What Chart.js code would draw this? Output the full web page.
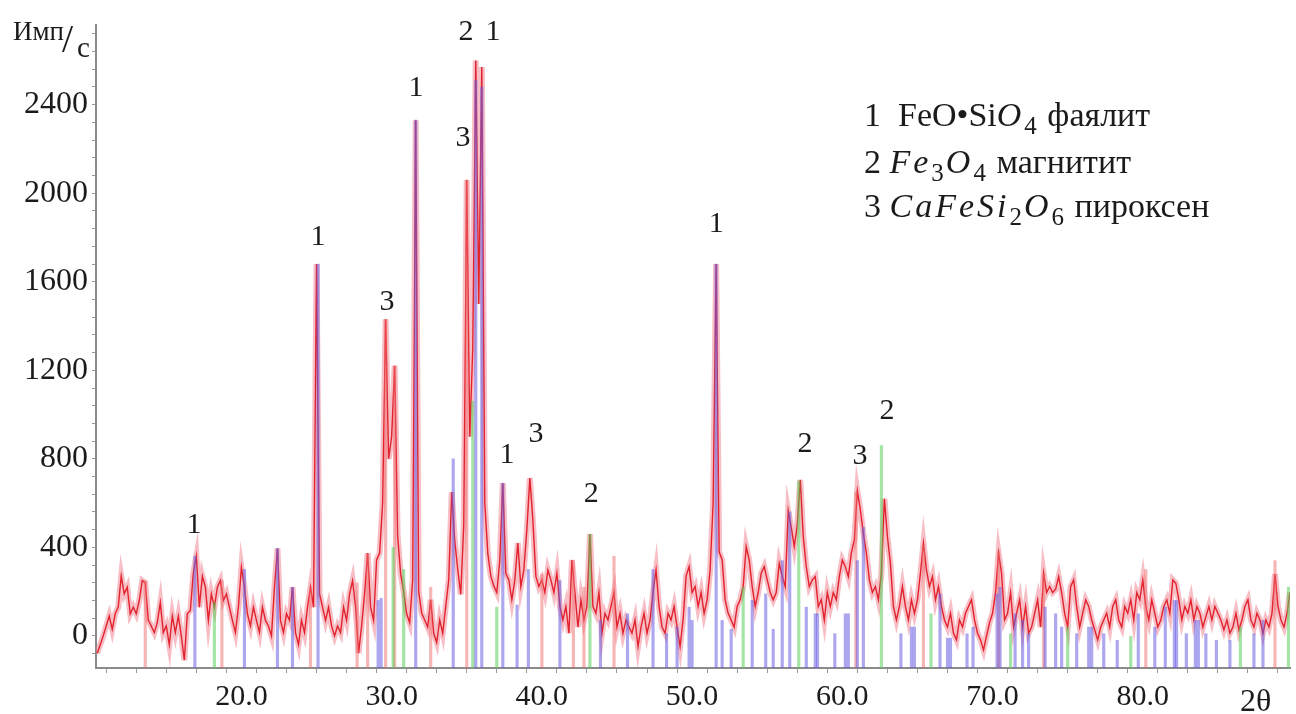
<!DOCTYPE html>
<html>
<head>
<meta charset="utf-8">
<script src="https://cdn.jsdelivr.net/npm/chart.js@4.4.1/dist/chart.umd.min.js"></script>
<style>
  html, body { margin: 0; padding: 0; background: #fff; }
  canvas { display: block; }
</style>
</head>
<body>
<canvas id="xrd" width="1296" height="714"></canvas>
<script>
// measured pattern, 2θ from 10.4 with a 0.2° step
const thetaStart = 10.4;
const thetaStep = 0.2;
const counts = [
  -78, -40, 0, 45, 90, 30, 100, 130, 270, 190,
  220, 100, 130, 100, 160, 250, 240, 70, 45, 15,
  60, 150, 15, 45, -40, 90, 15, 90, 0, -110,
  100, 115, 285, 360, 130, 270, 220, 70, 190, 130,
  220, 250, 160, 190, 130, 70, 15, 130, 310, 220,
  100, 45, 130, 70, 15, 130, 70, 45, 0, 220,
  395, 70, 15, 100, 70, 220, 15, -40, 70, 15,
  130, 220, 130, 1680, 190, 130, 70, 130, 45, 0,
  45, 15, 130, 70, 190, 250, 130, -78, 45, 190,
  374, 130, 70, 343, 374, 600, 1430, 800, 900, 1220,
  450, 280, 200, 100, 60, 250, 2330, 200, 102, 72,
  40, 163, 12, -30, 72, 12, 133, 253, 650, 430,
  300, 188, 500, 2060, 900, 1300, 2600, 1500, 2570, 600,
  374, 270, 226, 196, 343, 690, 283, 253, 163, 253,
  420, 223, 298, 480, 713, 524, 270, 223, 253, 196,
  298, 253, 196, 283, 133, 72, 133, 12, 343, 196,
  40, 163, 72, 133, 460, 133, 102, 196, 12, 102,
  72, 133, 196, 40, 102, 12, 72, 40, 12, 72,
  -48, 40, 102, 12, 72, 196, 298, 133, 40, 12,
  102, 72, 133, 40, -48, 72, 270, 313, 196, 223,
  133, 196, 102, 163, 298, 600, 1680, 380, 343, 163,
  102, 72, 40, 133, 163, 223, 404, 343, 223, 133,
  196, 283, 313, 253, 196, 163, 196, 328, 268, 223,
  565, 490, 404, 500, 705, 449, 313, 223, 253, 268,
  133, 163, 72, 196, 133, 196, 163, 268, 343, 313,
  268, 374, 434, 655, 570, 464, 374, 253, 196, 223,
  163, 283, 620, 449, 328, 133, 72, 133, 223, 133,
  72, 163, 102, 163, 283, 419, 298, 223, 268, 163,
  223, 133, 72, 40, 102, 12, -18, 72, 40, 102,
  133, 163, 72, 12, -18, -63, 0, 60, 102, 196,
  374, 283, 72, 102, 196, 40, 102, 163, 40, 133,
  12, 40, 102, 163, 40, 283, 196, 223, 196, 211,
  268, 196, 102, 40, 223, 253, 133, 40, 102, 163,
  133, 72, 27, -18, 40, 72, 102, 40, 133, 163,
  72, 40, 133, 102, 163, 72, 196, 163, 253, 133,
  72, 163, 102, 40, 72, 133, 163, 102, 253, 238,
  163, 72, 133, 102, 163, 72, 133, 102, 40, 87,
  133, 72, 133, 102, 72, 27, 72, 12, 40, 102,
  27, 72, 133, 163, 72, 40, 102, 72, 12, 72,
  40, 102, 280, 133, 72, 40, 102, 196
];

// reference sticks
const fayaliteTheta = [16.9, 20.2, 22.4, 23.4, 25.1, 29.1, 29.3, 31.6, 34.1, 35.6, 36.0, 37.4, 38.35, 39.1, 41.2,
  43.9, 45.7, 47.4, 48.3, 49.0, 49.8, 50.0, 51.6, 52.0, 52.6, 54.0, 54.9, 55.4, 56.0, 56.5, 57.6, 58.2, 58.35,
  59.5, 60.2, 60.4, 61.0, 61.4, 63.9, 64.6, 64.8, 66.5, 67.0, 67.2, 68.3, 68.7, 70.3, 70.5, 71.5, 72.0, 72.4,
  73.5, 74.2, 74.6, 75.6, 76.4, 76.6, 77.4, 78.3, 79.7, 80.8, 81.5, 82.1, 82.25, 82.9, 83.5, 83.7, 84.2, 84.9,
  85.8, 87.4, 88.0];
const fayaliteCounts = [360, 300, 395, 220, 1680, 160, 170, 2330, 800, 2510, 2480, 690, 140, 300, 250,
  70, 100, 300, 10, 40, 130, 70, 1680, 70, 30, 160, 190, 30, 340, 560, 130, 100, 100,
  10, 100, 100, 340, 490, 10, 40, 40, 190, -10, -10, 10, 40, 190, 220, 100, 70, 10,
  130, 100, 40, 10, 40, 40, 10, -20, 100, 40, 130, 160, 160, 10, 70, 70, 10, -20,
  -20, 10, 70];
const magnetiteTheta = [18.2, 30.1, 30.8, 35.4, 37.0, 43.2, 53.4, 57.1, 62.6, 65.9, 71.2, 75.0, 79.2, 86.5, 89.7];
const magnetiteCounts = [150, 400, 300, 1060, 130, 460, 220, 700, 860, 100, 10, 40, 0, 40, 220];
const pyroxeneTheta = [13.6, 18.7, 24.6, 27.7, 28.4, 29.6, 30.2, 32.6, 35.0, 40.0, 42.1, 42.8, 44.8, 60.9, 65.4,
  70.4, 73.4, 80.2, 88.8];
const pyroxeneCounts = [250, 250, 220, 240, 370, 1430, 1220, 220, 2060, 280, 340, 220, 360, 650, 410,
  380, 280, 300, 340];

// tick labels
const xLabelValues = [20, 30, 40, 50, 60, 70, 80];
const yLabelValues = [0, 400, 800, 1200, 1600, 2000, 2400];

// phase marks above the peaks
const peakText = ['1', '1', '3', '1', '2', '1', '3', '1', '3', '2', '1', '2', '3', '2'];
const peakTheta = [16.84, 25.1, 29.69, 31.62, 34.95, 36.75, 34.75, 37.68, 39.61, 43.28, 51.6, 57.52, 61.18, 62.98];
const peakCounts = [502, 1803, 1509, 2476, 2729, 2729, 2250, 818, 913, 642, 1862, 868, 813, 1017];

// legend: [text, style]  n = upright, i = italic, s = subscript
const legendLines = [
  [['1  FeO•Si', 'n'], ['O', 'i'], ['4', 's'], [' фаялит', 'n']],
  [['2 ', 'n'], ['Fe', 'i'], ['3', 's'], ['O', 'i'], ['4', 's'], [' магнитит', 'n']],
  [['3 ', 'n'], ['CaFeSi', 'i'], ['2', 's'], ['O', 'i'], ['6', 's'], [' пироксен', 'n']]
];

const Y_MIN = -145;
const Y_MAX = 2760;
const SERIF = '"Liberation Serif", "Times New Roman", serif';

const profile = counts.map((c, i) => ({ x: +(thetaStart + i * thetaStep).toFixed(2), y: c }));
const sticks = (th, cs) => th.map((t, i) => ({ x: t, y: [Y_MIN, cs[i]] }));

const textPlugin = {
  id: 'texts',
  afterDraw(chart) {
    const ctx = chart.ctx;
    const xs = chart.scales.x, ys = chart.scales.y;
    ctx.save();
    ctx.fillStyle = '#1b1b1b';

    // peak numbers
    ctx.font = '30px ' + SERIF;
    ctx.textAlign = 'center';
    ctx.textBaseline = 'middle';
    peakText.forEach((t, i) => {
      ctx.fillText(t, xs.getPixelForValue(peakTheta[i]), ys.getPixelForValue(peakCounts[i]));
    });

    // axis names
    ctx.textAlign = 'left';
    ctx.textBaseline = 'alphabetic';
    ctx.font = '27px ' + SERIF;
    ctx.fillText('Имп', 13, 40);
    ctx.font = '40px ' + SERIF;
    ctx.fillText('/', 62, 52);
    ctx.font = '29px ' + SERIF;
    ctx.fillText('с', 77, 57);
    ctx.font = '32px ' + SERIF;
    ctx.fillText('2θ', 1240, 711);

    // legend
    const baselines = [126, 173, 217];
    legendLines.forEach((runs, li) => {
      let x = 864;
      runs.forEach(([txt, st]) => {
        let y = baselines[li];
        ctx.letterSpacing = '0px';
        if (st === 'i') { ctx.font = 'italic 34px ' + SERIF; ctx.letterSpacing = '3px'; }
        else if (st === 's') { ctx.font = '25px ' + SERIF; y += 8; }
        else ctx.font = '34px ' + SERIF;
        ctx.fillText(txt, x, y);
        x += ctx.measureText(txt).width + (st === 's' ? 2 : 0);
      });
    });
    ctx.letterSpacing = '0px';
    ctx.restore();
  }
};

Chart.defaults.font.family = SERIF;
Chart.defaults.color = '#1b1b1b';

new Chart(document.getElementById('xrd'), {
  type: 'line',
  data: {
    datasets: [
      {
        data: profile, borderColor: 'rgba(240, 125, 140, 0.5)', borderWidth: 6,
        pointRadius: 0, tension: 0, order: 6
      },
      {
        data: profile, borderColor: '#e2232e', borderWidth: 1.4,
        pointRadius: 0, tension: 0, order: 5
      },
      {
        type: 'bar', data: sticks(pyroxeneTheta, pyroxeneCounts),
        backgroundColor: 'rgba(240, 110, 110, 0.5)', barThickness: 2.5, grouped: false, order: 3
      },
      {
        type: 'bar', data: sticks(magnetiteTheta, magnetiteCounts),
        backgroundColor: 'rgba(90, 205, 90, 0.55)', barThickness: 2.5, grouped: false, order: 2
      },
      {
        type: 'bar', data: sticks(fayaliteTheta, fayaliteCounts),
        backgroundColor: 'rgba(105, 95, 225, 0.55)', barThickness: 2.5, grouped: false, order: 1
      }
    ]
  },
  options: {
    responsive: false,
    animation: false,
    layout: { padding: { top: 25, right: 6, left: 0, bottom: 0 } },
    plugins: { legend: { display: false }, tooltip: { enabled: false } },
    scales: {
      x: {
        type: 'linear', min: 10.32, max: 89.8, offset: false,
        afterBuildTicks: (scale) => {
          const t = [];
          for (let v = 12; v <= 88; v += 2) t.push({ value: v });
          scale.ticks = t;
        },
        afterFit: (scale) => { scale.height = 46; },
        ticks: {
          autoSkip: false, maxRotation: 0, padding: 6,
          font: { size: 30, family: SERIF },
          callback: (v) => xLabelValues.includes(v) ? v.toFixed(1) : ''
        },
        grid: { drawOnChartArea: false, drawTicks: true, tickLength: 5, color: '#999' },
        border: { display: true, color: '#8a8a8a', width: 2 }
      },
      y: {
        type: 'linear', min: Y_MIN, max: Y_MAX,
        afterBuildTicks: (scale) => {
          const t = [];
          for (let v = -80; v <= 2720; v += 80) t.push({ value: v });
          scale.ticks = t;
        },
        afterFit: (scale) => { scale.width = 96; },
        ticks: {
          autoSkip: false, padding: 4,
          font: { size: 32, family: SERIF },
          callback: (v) => yLabelValues.includes(v) ? String(v) : ''
        },
        grid: { drawOnChartArea: false, drawTicks: true, tickLength: 4, color: '#999' },
        border: { display: true, color: '#8a8a8a', width: 2 }
      }
    }
  },
  plugins: [textPlugin]
});
</script>
</body>
</html>
